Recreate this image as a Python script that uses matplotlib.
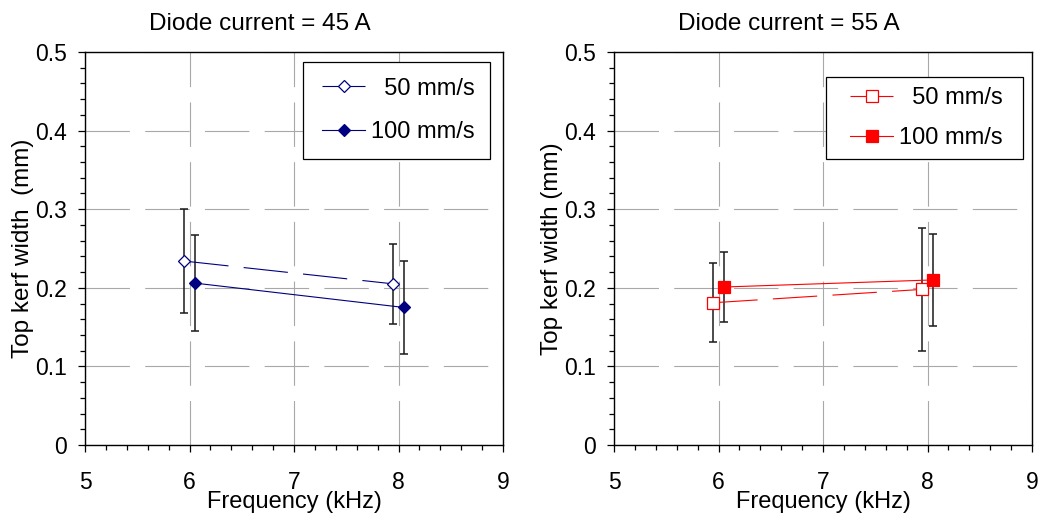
import matplotlib
matplotlib.use("Agg")
import matplotlib.pyplot as plt
from matplotlib.lines import Line2D
from matplotlib.legend_handler import HandlerLine2D
from matplotlib.ticker import MultipleLocator, FormatStrFormatter

plt.rcParams['font.family'] = ['Liberation Sans', 'DejaVu Sans']
plt.rcParams['font.size'] = 16.5
plt.rcParams['lines.scale_dashes'] = False

freqs = [6, 8]
speed_labels = ["  50 mm/s", "100 mm/s"]

# diode current 45 A
kerf_45_50 = [0.234, 0.205]
low_45_50 = [0.168, 0.154]
high_45_50 = [0.300, 0.256]
kerf_45_100 = [0.206, 0.175]
low_45_100 = [0.145, 0.116]
high_45_100 = [0.267, 0.234]

# diode current 55 A
kerf_55_50 = [0.181, 0.198]
low_55_50 = [0.131, 0.120]
high_55_50 = [0.231, 0.276]
kerf_55_100 = [0.201, 0.210]
low_55_100 = [0.156, 0.152]
high_55_100 = [0.245, 0.268]

panels = [
    dict(title="Diode current = 45 A", ylabel="Top kerf width  (mm)",
         color="#000080", marker="D", ms=6,
         series=[(kerf_45_50, low_45_50, high_45_50),
                 (kerf_45_100, low_45_100, high_45_100)],
         legbox=(0.5215, 0.975 - 0.245, 0.447, 0.245),
         lspace=0.9, bpad=0.67, xpad=0.15),
    dict(title="Diode current = 55 A", ylabel="Top kerf width (mm)",
         color="#ff0000", marker="s", ms=8,
         series=[(kerf_55_50, low_55_50, high_55_50),
                 (kerf_55_100, low_55_100, high_55_100)],
         legbox=(0.507, 0.936 - 0.204, 0.471, 0.204),
         lspace=0.75, bpad=0.42, xpad=0.62),
]

fig = plt.figure(figsize=(10.43, 5.15), dpi=100)
lefts = [85 / 1043, 614 / 1043]
dash = (0, (32, 11))

for left, p in zip(lefts, panels):
    ax = fig.add_axes([left, 1 - 445 / 515, 418 / 1043, 393 / 515])
    color = p["color"]
    handles = []
    for i, (vals, lo, hi) in enumerate(p["series"]):
        offset = -0.05 if i == 0 else 0.05
        x = [f + offset for f in freqs]
        err = [[v - l for v, l in zip(vals, lo)], [h - v for v, h in zip(vals, hi)]]
        ax.errorbar(x, vals, yerr=err, fmt='none', ecolor='#1a1a1a',
                    elinewidth=1.1, capsize=2.6, capthick=1.1, zorder=3)
        face = 'white' if i == 0 else color
        ln, = ax.plot(x, vals, color=color, lw=0.8,
                      linestyle=dash if i == 0 else '-',
                      marker=p["marker"], ms=p["ms"], mfc=face, mec=color, mew=0.9,
                      zorder=4, label=speed_labels[i])
        handles.append(ln)

    ax.set_xlim(5, 9)
    ax.set_ylim(0, 0.5)
    ax.xaxis.set_major_locator(MultipleLocator(1))
    ax.xaxis.set_minor_locator(MultipleLocator(0.2))
    ax.yaxis.set_major_locator(MultipleLocator(0.1))
    ax.yaxis.set_minor_locator(MultipleLocator(0.02))
    ax.yaxis.set_major_formatter(FormatStrFormatter('%g'))
    ax.tick_params(which='major', direction='out', length=5, width=0.9)
    ax.tick_params(which='minor', direction='out', length=3.5, width=0.9)
    ax.tick_params(axis='x', which='major', pad=14)
    ax.tick_params(axis='y', which='major', pad=8)
    for sp in ax.spines.values():
        sp.set_linewidth(1.0)
        sp.set_color('black')

    ax.grid(True, which='major', color='#a8a8a8', lw=0.8, linestyle=dash, zorder=0)
    ax.set_axisbelow(True)

    ax.set_xlabel("Frequency (kHz)", fontsize=17)
    ax.xaxis.set_label_coords(0.5, -0.118)
    ax.set_ylabel(p["ylabel"], fontsize=17.5)
    ax.yaxis.set_label_coords(-0.122, 0.5)
    ax.text(0.419, 1.072, p["title"], transform=ax.transAxes,
            ha='center', va='center', fontsize=17.5)

    leg = ax.legend(handles=handles, loc='upper left', bbox_to_anchor=p["legbox"],
                    mode='expand', borderaxespad=0, borderpad=p["bpad"],
                    handlelength=1.8 + p["xpad"], handletextpad=0.25,
                    labelspacing=p["lspace"], fancybox=False, framealpha=1,
                    edgecolor='black', fontsize=17,
                    handler_map={Line2D: HandlerLine2D(xpad=p["xpad"])})
    leg.get_frame().set_linewidth(0.9)

fig.savefig("out.png", dpi=100)
